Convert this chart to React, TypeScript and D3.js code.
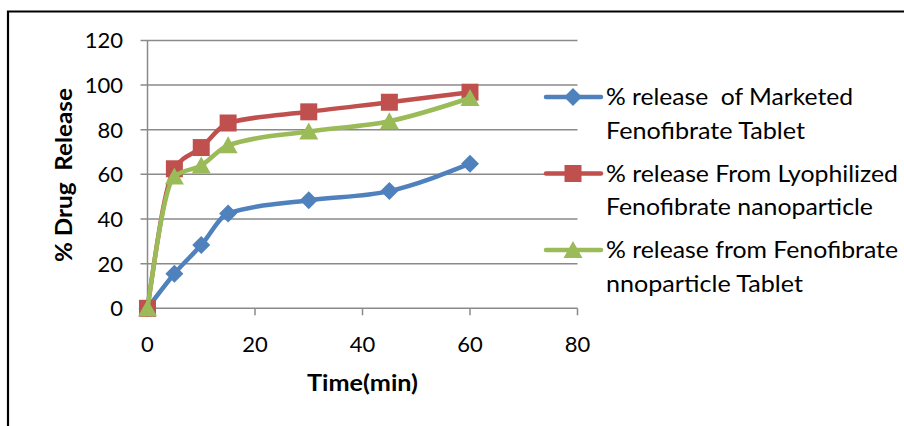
import React from "react";
import * as d3 from "d3";

// Dissolution time points (minutes)
const times = [0, 5, 10, 15, 30, 45, 60];

// Cumulative % drug released per formulation
const marketed = [0, 15.5, 28.3, 42.5, 48.4, 52.5, 64.8];
const lyophilized = [0, 62.5, 72, 83, 88, 92.3, 96.8];
const nanoTablet = [0, 59, 64, 73, 79.2, 83.8, 94.2];

const seriesNames = [
  ["% release  of Marketed", "Fenofibrate Tablet"],
  ["% release From Lyophilized", "Fenofibrate nanoparticle"],
  ["% release from Fenofibrate", "nnoparticle Tablet"],
];
// rendered widths of each legend line
const legendWidths = [
  [247, 199],
  [292, 267],
  [292, 197],
];
const seriesColors = ["#4F81BD", "#C0504D", "#9BBB59"];
const seriesMarkers = ["diamond", "square", "triangle"];

const xTicks = [0, 20, 40, 60, 80];
const yTicks = [0, 20, 40, 60, 80, 100, 120];

const FONT = "Lato, 'Open Sans', sans-serif";

function markerPath(kind: string, cx: number, cy: number): string {
  if (kind === "diamond") {
    const r = 9;
    return `M${cx},${cy - r}L${cx + r},${cy}L${cx},${cy + r}L${cx - r},${cy}Z`;
  }
  if (kind === "square") {
    const h = 8.5;
    return `M${cx - h},${cy - h}H${cx + h}V${cy + h}H${cx - h}Z`;
  }
  const w = 9.5;
  return `M${cx},${cy - 9}L${cx + w},${cy + 8}L${cx - w},${cy + 8}Z`;
}

export default function App() {
  const W = 904;
  const H = 426;
  const x = d3.scaleLinear().domain([0, 80]).range([147.5, 577.5]);
  const y = d3.scaleLinear().domain([0, 120]).range([308.3, 40.4]);

  const data = [marketed, lyophilized, nanoTablet];
  const line = d3
    .line<number>()
    .x((_, i) => x(times[i]))
    .y((d) => y(d))
    .curve(d3.curveMonotoneX);

  const grid = "#8A8A8A";

  return (
    <svg
      width={W}
      height={H}
      style={{ position: "absolute", left: 0, top: 0, background: "#fff" }}
    >
      <rect x={0} y={0} width={W} height={H} fill="#fff" />
      {/* outer frame */}
      <path d={`M8,${H + 5}V11.5H${W + 5}`} fill="none" stroke="#000" strokeWidth={2.2} />

      {/* horizontal gridlines with left ticks */}
      {yTicks.map((t) => (
        <line
          key={"g" + t}
          x1={x(0) - 7}
          x2={x(80)}
          y1={y(t)}
          y2={y(t)}
          stroke={grid}
          strokeWidth={1.5}
        />
      ))}
      {/* y axis line */}
      <line x1={x(0)} x2={x(0)} y1={y(120)} y2={y(0)} stroke={grid} strokeWidth={1.5} />
      {/* x ticks */}
      {xTicks.map((t) => (
        <line
          key={"xt" + t}
          x1={x(t)}
          x2={x(t)}
          y1={y(0)}
          y2={y(0) + 7}
          stroke={grid}
          strokeWidth={1.5}
        />
      ))}

      {/* y tick labels */}
      {yTicks.map((t) => (
        <text
          key={"yl" + t}
          x={123}
          y={y(t)}
          dy="0.36em"
          textAnchor="end"
          fontFamily={FONT}
          fontSize={22}
          fill="#000"
        >
          {t}
        </text>
      ))}
      {/* x tick labels */}
      {xTicks.map((t) => (
        <text
          key={"xl" + t}
          x={x(t)}
          y={351.5}
          textAnchor="middle"
          fontFamily={FONT}
          fontSize={22}
          fill="#000"
        >
          {t}
        </text>
      ))}

      {/* axis titles */}
      <text
        x={307}
        y={391}
        fontFamily={FONT}
        fontWeight="bold"
        fontSize={22}
        textLength={111}
        lengthAdjust="spacingAndGlyphs"
        fill="#000"
      >
        Time(min)
      </text>
      <text
        transform={`translate(72,262) rotate(-90)`}
        fontFamily={FONT}
        fontWeight="bold"
        fontSize={22}
        textLength={174}
        lengthAdjust="spacingAndGlyphs"
        fill="#000"
        style={{ whiteSpace: "pre" }}
      >
        % Drug  Release
      </text>

      {/* series lines and markers */}
      {data.map((vals, s) => (
        <g key={"s" + s}>
          <path
            d={line(vals) || ""}
            fill="none"
            stroke={seriesColors[s]}
            strokeWidth={4.5}
            strokeLinejoin="round"
            strokeLinecap="round"
          />
          {vals.map((v, i) => (
            <path
              key={i}
              d={markerPath(seriesMarkers[s], x(times[i]), y(v))}
              fill={seriesColors[s]}
            />
          ))}
        </g>
      ))}

      {/* legend */}
      {seriesNames.map((lines, s) => {
        const cy = 97 + s * 76.5;
        return (
          <g key={"lg" + s}>
            <line
              x1={546}
              x2={601}
              y1={cy}
              y2={cy}
              stroke={seriesColors[s]}
              strokeWidth={4.5}
              strokeLinecap="round"
            />
            <path d={markerPath(seriesMarkers[s], 573, cy)} fill={seriesColors[s]} />
            {lines.map((txt, j) => (
              <text
                key={j}
                x={606}
                y={cy + j * 33.5}
                dy="0.36em"
                fontFamily={FONT}
                fontSize={22.5}
                textLength={legendWidths[s][j]}
                lengthAdjust="spacingAndGlyphs"
                fill="#000"
                style={{ whiteSpace: "pre" }}
              >
                {txt}
              </text>
            ))}
          </g>
        );
      })}
    </svg>
  );
}
